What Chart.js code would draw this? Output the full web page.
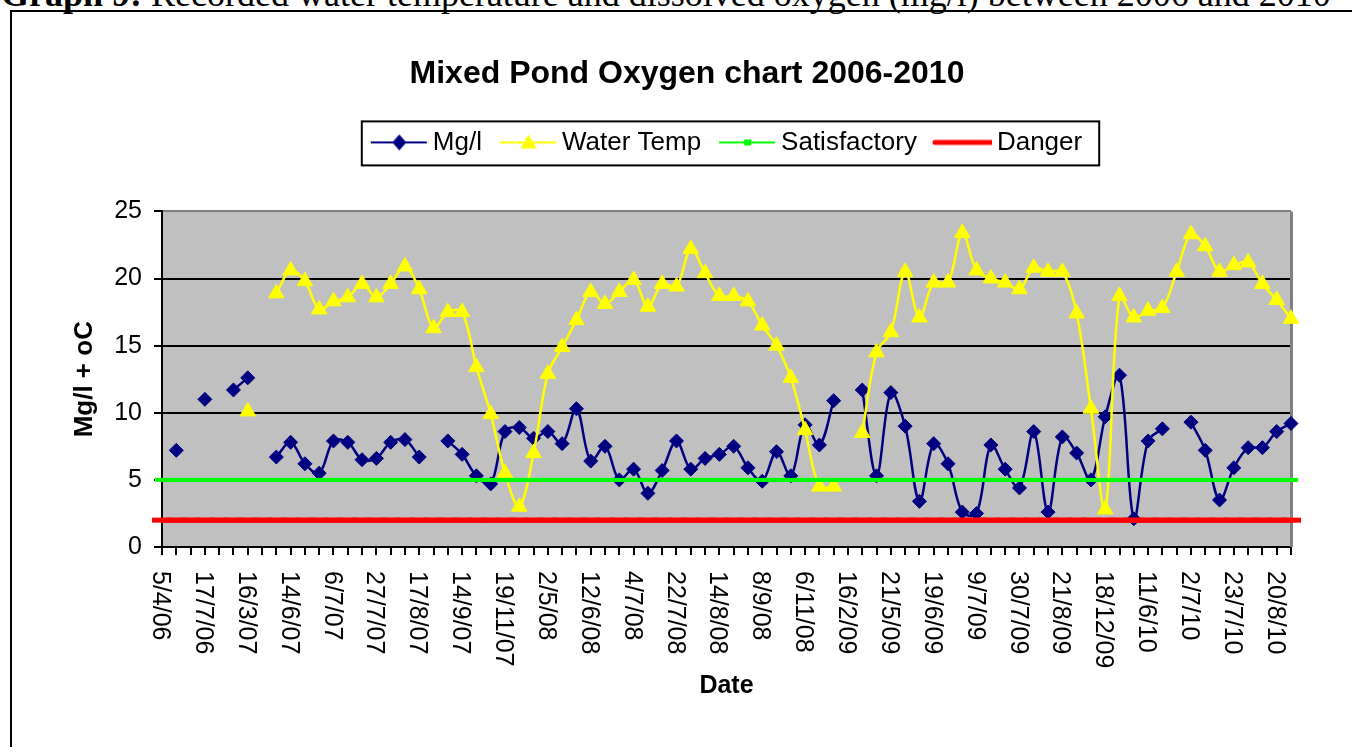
<!DOCTYPE html>
<html lang="en">

<head>
    <title>Mixed Pond Oxygen chart 2006-2010</title>
    <script src="https://cdn.jsdelivr.net/npm/chart.js"></script>
    <style>
        body {
            margin: 0;
            overflow: hidden;
            background: #fff;
            width: 1352px;
            height: 747px;
            position: relative;
        }

        #caption {
            position: absolute;
            left: 1px;
            top: -24px;
            font-family: "Liberation Serif", "Times New Roman", serif;
            font-size: 36px;
            line-height: 36px;
            white-space: nowrap;
            color: #000;
        }

        #frame {
            position: absolute;
            left: 10px;
            top: 10px;
            width: 1400px;
            height: 800px;
            border-left: 2px solid #000;
            border-top: 2px solid #000;
        }

        #chartBox {
            position: absolute;
            left: 0;
            top: 0;
            width: 1350px;
            height: 735px;
        }
    </style>
</head>

<body>
    <div id="caption"><b>Graph 9:</b> Recorded water temperature and dissolved oxygen (mg/l) between 2006 and 2010</div>
    <div id="frame">
        <div id="chartBox"><canvas id="pondChart"></canvas></div>
    </div>
    <script>
        // dates shown on the axis (every third reading)
        const dateTicks = ['5/4/06', '17/7/06', '16/3/07', '14/6/07', '6/7/07', '27/7/07', '17/8/07',
            '14/9/07', '19/11/07', '2/5/08', '12/6/08', '4/7/08', '22/7/08', '14/8/08', '8/9/08',
            '6/11/08', '16/2/09', '21/5/09', '19/6/09', '9/7/09', '30/7/09', '21/8/09', '18/12/09',
            '11/6/10', '2/7/10', '23/7/10', '20/8/10'];
        const labelStep = 3;
        const categoryCount = 80;

        const oxygen = [
            null, 7.2, null, 11.0, null, 11.7, 12.6, null, 6.7, 7.8,
            6.2, 5.5, 7.9, 7.8, 6.5, 6.6, 7.8, 8.0, 6.7, null,
            7.9, 6.9, 5.3, 4.7, 8.6, 8.9, 8.1, 8.6, 7.7, 10.3,
            6.4, 7.5, 5.0, 5.8, 4.0, 5.7, 7.9, 5.8, 6.6, 6.9,
            7.5, 5.9, 4.9, 7.1, 5.3, 9.1, 7.6, 10.9, null, 11.7,
            5.3, 11.5, 9.0, 3.4, 7.7, 6.2, 2.6, 2.5, 7.6, 5.8,
            4.4, 8.6, 2.6, 8.2, 7.0, 5.0, 9.7, 12.8, 2.1, 7.9,
            8.8, null, 9.3, 7.2, 3.5, 5.9, 7.4, 7.4, 8.6, 9.2
        ];

        const waterTemp = [
            null, null, null, null, null, null, 10.1, null, 18.9, 20.6,
            19.8, 17.7, 18.3, 18.6, 19.6, 18.6, 19.6, 20.9, 19.2, 16.3,
            17.5, 17.5, 13.4, 9.9, 5.5, 3.0, 7.0, 12.9, 14.9, 16.9,
            19.0, 18.1, 19.0, 19.9, 17.9, 19.6, 19.4, 22.2, 20.4, 18.7,
            18.7, 18.3, 16.5, 15.0, 12.6, 8.7, 4.5, 4.5, null, 8.5,
            14.5, 16.0, 20.5, 17.1, 19.7, 19.7, 23.4, 20.6, 20.0, 19.7,
            19.2, 20.8, 20.5, 20.5, 17.4, 10.3, 2.8, 18.7, 17.1, 17.6,
            17.8, 20.5, 23.3, 22.4, 20.5, 21.0, 21.2, 19.6, 18.4, 17.0
        ];

        const satisfactoryLevel = 5;
        const dangerLevel = 2;

        const labels = Array.from({ length: categoryCount }, (_, i) =>
            i % labelStep === 0 ? dateTicks[i / labelStep] : '');

        const FONT = 'Arial, "Liberation Sans", sans-serif';
        Chart.defaults.font.family = FONT;
        Chart.defaults.color = '#000';

        // legend sample: a line with the marker in its middle (Excel style)
        function swatch(color, width, marker) {
            const c = document.createElement('canvas');
            c.width = 65;
            c.height = 20;
            const g = c.getContext('2d');
            g.strokeStyle = color;
            g.fillStyle = color;
            g.lineWidth = width;
            g.lineCap = marker === 'round' ? 'round' : 'butt';
            g.beginPath();
            g.moveTo(8, 10);
            g.lineTo(64, 10);
            g.stroke();
            const cx = 36.5, cy = 10;
            g.beginPath();
            if (marker === 'diamond') {
                g.moveTo(cx, cy - 8); g.lineTo(cx + 7, cy); g.lineTo(cx, cy + 8); g.lineTo(cx - 7, cy);
            } else if (marker === 'triangle') {
                g.moveTo(cx, cy - 8); g.lineTo(cx + 8, cy + 6); g.lineTo(cx - 8, cy + 6);
            } else if (marker === 'square') {
                g.rect(cx - 3.5, cy - 3, 7, 6);
            }
            g.closePath();
            g.fill();
            return c;
        }

        const plotDecor = {
            id: 'plotDecor',
            beforeDraw(chart) {
                const { ctx, chartArea: a } = chart;
                ctx.save();
                ctx.fillStyle = '#c0c0c0';
                ctx.fillRect(a.left, a.top, a.right - a.left, a.bottom - a.top);
                ctx.restore();
            },
            beforeDatasetsDraw(chart) {
                const { ctx, chartArea: a } = chart;
                ctx.save();
                ctx.strokeStyle = '#808080';
                ctx.lineWidth = 3;
                ctx.beginPath();
                ctx.moveTo(a.right + 0.5, a.top);
                ctx.lineTo(a.right + 0.5, a.bottom);
                ctx.stroke();
                ctx.restore();
            },
            afterDraw(chart) {
                const { ctx, chartArea: a } = chart;
                const xs = chart.scales.x;
                ctx.save();
                // date labels, turned to read downwards
                ctx.font = '25px ' + FONT;
                ctx.fillStyle = '#000';
                ctx.textAlign = 'left';
                ctx.textBaseline = 'middle';
                labels.forEach((lab, i) => {
                    if (!lab) return;
                    ctx.save();
                    ctx.translate(xs.getPixelForValue(i) - 2, a.bottom + 24);
                    ctx.rotate(Math.PI / 2);
                    ctx.fillText(lab, 0, 0);
                    ctx.restore();
                });
                // frame round the legend
                const hb = chart.legend.legendHitBoxes;
                if (hb && hb.length) {
                    const last = hb[hb.length - 1];
                    const l = hb[0].left - 9;
                    const r = last.left + last.width + 17;
                    const t = hb[0].top - 8;
                    const b = hb[0].top + hb[0].height + 10;
                    ctx.strokeStyle = '#000';
                    ctx.lineWidth = 2;
                    ctx.strokeRect(l, t, r - l, b - t);
                }
                ctx.restore();
            }
        };

        new Chart(document.getElementById('pondChart'), {
            type: 'line',
            data: {
                labels: labels,
                datasets: [{
                    label: 'Mg/l',
                    data: oxygen,
                    borderColor: '#000080',
                    backgroundColor: '#000080',
                    borderWidth: 2.5,
                    pointStyle: 'rectRot',
                    pointRadius: 7,
                    pointBorderWidth: 1,
                    tension: 0.35,
                    clip: false,
                    order: 3,
                    legendImage: swatch('#000080', 2, 'diamond')
                }, {
                    label: 'Water Temp',
                    data: waterTemp,
                    borderColor: '#ffff00',
                    backgroundColor: '#ffff00',
                    borderWidth: 2.5,
                    pointStyle: 'triangle',
                    pointRadius: 9,
                    pointBorderWidth: 1,
                    tension: 0.35,
                    clip: false,
                    order: 2,
                    legendImage: swatch('#ffff00', 2, 'triangle')
                }, {
                    label: 'Satisfactory',
                    data: labels.map(() => satisfactoryLevel),
                    borderColor: '#00ff00',
                    backgroundColor: '#00ff00',
                    borderWidth: 4,
                    pointStyle: 'line',
                    pointRadius: 7,
                    pointBorderWidth: 4,
                    clip: false,
                    order: 1,
                    legendImage: swatch('#00ff00', 2, 'square')
                }, {
                    label: 'Danger',
                    data: labels.map(() => dangerLevel),
                    borderColor: '#ff0000',
                    backgroundColor: '#ff0000',
                    borderWidth: 5,
                    pointStyle: 'line',
                    pointRadius: 10,
                    pointBorderWidth: 5,
                    clip: false,
                    order: 0,
                    legendImage: swatch('#ff0000', 5, 'round')
                }]
            },
            options: {
                responsive: true,
                maintainAspectRatio: false,
                animation: false,
                layout: { padding: 0 },
                plugins: {
                    title: {
                        display: true,
                        text: 'Mixed Pond Oxygen chart 2006-2010',
                        font: { size: 32, weight: 'bold' },
                        padding: { top: 43, bottom: 18 }
                    },
                    legend: {
                        fullSize: false,
                        labels: {
                            usePointStyle: true,
                            pointStyleWidth: 49,
                            padding: 18,
                            font: { size: 26 },
                            sort: (a, b) => a.datasetIndex - b.datasetIndex,
                            generateLabels(chart) {
                                const items = Chart.defaults.plugins.legend.labels.generateLabels(chart);
                                items.forEach(it => {
                                    it.pointStyle = chart.data.datasets[it.datasetIndex].legendImage;
                                });
                                return items;
                            }
                        }
                    },
                    tooltip: { enabled: false }
                },
                scales: {
                    x: {
                        ticks: { display: false, autoSkip: false },
                        grid: {
                            drawOnChartArea: false,
                            drawTicks: true,
                            tickLength: 8,
                            tickColor: '#000',
                            lineWidth: 2
                        },
                        border: { color: '#000', width: 2 },
                        title: {
                            display: true,
                            text: 'Date',
                            font: { size: 25, weight: 'bold' },
                            padding: { top: 0, bottom: 46 }
                        },
                        afterFit(s) { s.height = 200; }
                    },
                    x2: {
                        type: 'linear',
                        position: 'top',
                        ticks: { display: false },
                        grid: { display: false },
                        border: { display: false },
                        afterFit(s) { s.height = 46; }
                    },
                    y: {
                        min: 0,
                        max: 25,
                        ticks: { stepSize: 5, font: { size: 25 }, padding: 12 },
                        grid: {
                            color: c => c.tick && c.tick.value === 25 ? '#808080' : '#000',
                            tickColor: '#000',
                            tickLength: 8,
                            lineWidth: 2
                        },
                        border: { color: '#000', width: 2 },
                        title: {
                            display: true,
                            text: 'Mg/l + oC',
                            font: { size: 26, weight: 'bold' },
                            padding: { top: 57, bottom: 0 }
                        },
                        afterFit(s) { s.width = 150; }
                    },
                    y2: {
                        type: 'linear',
                        position: 'right',
                        ticks: { display: false },
                        grid: { display: false },
                        border: { display: false },
                        afterFit(s) { s.width = 71; }
                    }
                }
            },
            plugins: [plotDecor]
        });
    </script>

</body>

</html>
